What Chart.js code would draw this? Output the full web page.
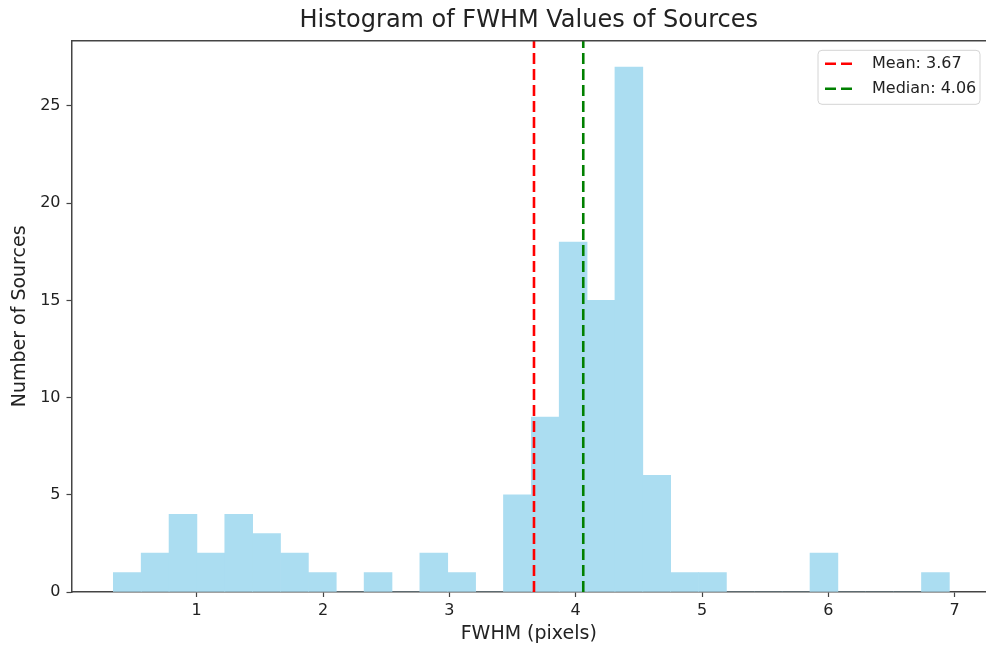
<!DOCTYPE html>
<html>
<head>
<meta charset="utf-8">
<title>FWHM histogram</title>
<script src="https://cdn.jsdelivr.net/npm/chart.js@4.4.0/dist/chart.umd.min.js"></script>
<style>
    html, body { margin: 0; padding: 0; overflow: hidden; background: #fff; }
    #wrap { width: 986px; height: 648px; }
</style>
</head>
<body>
<div id="wrap"><canvas id="graphe"></canvas></div>
<script>
// histogram bins: left edge of first bin, bin width, sources per bin
var binStart = 0.34;
var binWidth = 0.2206;
var counts = [1, 2, 4, 2, 4, 3, 2, 1, 0, 1, 0, 2, 1, 0, 5, 9, 18, 15, 27, 6, 1, 1, 0, 0, 0, 2, 0, 0, 0, 1];
// summary statistics shown as vertical lines
var meanValue = 3.67;
var medianValue = 4.06;
// axes (the x range runs up to the right edge of the canvas, the right spine falls outside)
var xTicks = [1, 2, 3, 4, 5, 6, 7];
var yTicks = [0, 5, 10, 15, 20, 25];
var xLimits = [0.009, 7.248];
var yLimits = [0, 28.35];

var font = "'DejaVu Sans', sans-serif";
var spineColor = '#444';

Chart.defaults.color = '#222';
Chart.defaults.font.family = font;

//bar centre for every bin, empty bins included so all bars get the same width
function histData(){
    var data = [];
    for (var i = 0; i < counts.length; i++) {
        data.push({x: binStart + (i + 0.5) * binWidth, y: counts[i]});
    }
    return data;
}
//vertical line spanning the whole y range
function vline(value){
    return [{x: value, y: yLimits[0]}, {x: value, y: yLimits[1]}];
}

//top spine, the scales only draw left and bottom
var framePlugin = {
    id: 'frame',
    afterDatasetsDraw: function(chart){
        var a = chart.chartArea, ctx = chart.ctx;
        ctx.save();
        ctx.strokeStyle = spineColor;
        ctx.lineWidth = 1.5;
        ctx.beginPath();
        ctx.moveTo(a.left, a.top);
        ctx.lineTo(a.right, a.top);
        ctx.stroke();
        ctx.restore();
    }
};

//boxed legend in the upper right corner, one entry per line dataset
var legendPlugin = {
    id: 'boxLegend',
    afterDraw: function(chart){
        var a = chart.chartArea, ctx = chart.ctx;
        var items = chart.data.datasets.filter(function(ds){ return ds.type === 'line'; });
        var x = 818, y = a.top + 9.5, w = 162, h = 54;
        ctx.save();
        ctx.beginPath();
        ctx.roundRect(x, y, w, h, 4);
        ctx.fillStyle = 'rgba(255,255,255,0.8)';
        ctx.fill();
        ctx.strokeStyle = '#d4d4d4';
        ctx.lineWidth = 1;
        ctx.stroke();
        ctx.font = '16px ' + font;
        ctx.textBaseline = 'middle';
        items.forEach(function(ds, i){
            var cy = y + 13.5 + i * 25;
            ctx.strokeStyle = ds.borderColor;
            ctx.lineWidth = ds.borderWidth;
            ctx.setLineDash(ds.borderDash);
            ctx.beginPath();
            ctx.moveTo(x + 7, cy);
            ctx.lineTo(x + 37, cy);
            ctx.stroke();
            ctx.setLineDash([]);
            ctx.fillStyle = '#222';
            ctx.fillText(ds.label, x + 54, cy);
        });
        ctx.restore();
    }
};

var ctx = document.getElementById('graphe').getContext('2d');
var myChart = new Chart(ctx, {
    type: 'bar',
    data: {
        datasets: [{
            type: 'line',
            label: 'Mean: ' + meanValue.toFixed(2),
            data: vline(meanValue),
            borderColor: '#ff0000',
            borderWidth: 2.6,
            borderDash: [11, 5],
            pointRadius: 0,
            fill: false,
            order: 0
        },
        {
            type: 'line',
            label: 'Median: ' + medianValue.toFixed(2),
            data: vline(medianValue),
            borderColor: '#008000',
            borderWidth: 2.6,
            borderDash: [11, 5],
            pointRadius: 0,
            fill: false,
            order: 0
        },
        {
            label: 'FWHM',
            data: histData(),
            // skyblue at 0.7 alpha over white, kept opaque so touching bars leave no seams
            backgroundColor: 'rgb(171,221,241)',
            borderWidth: 0,
            barPercentage: 1,
            categoryPercentage: 1,
            order: 1
        }]
    },
    options: {
        responsive: true,
        maintainAspectRatio: false,
        animation: false,
        events: [],
        layout: { padding: 0 },
        plugins: {
            legend: { display: false },
            tooltip: { enabled: false },
            title: {
                display: true,
                fullSize: false,
                text: 'Histogram of FWHM Values of Sources',
                color: '#222',
                font: { size: 24, weight: 'normal', family: font },
                padding: { top: 6, bottom: 6 }
            }
        },
        scales: {
            x: {
                type: 'linear',
                min: xLimits[0],
                max: xLimits[1],
                offset: false,
                grid: { offset: false, drawOnChartArea: false, drawTicks: true, tickLength: 5, color: spineColor, tickWidth: 1.2 },
                border: { display: true, color: spineColor, width: 1.5 },
                afterBuildTicks: function(scale){
                    scale.ticks = xTicks.map(function(v){ return {value: v}; });
                },
                ticks: { maxRotation: 0, padding: 4, font: { size: 16 }, color: '#222' },
                title: { display: true, text: 'FWHM (pixels)', font: { size: 19 }, color: '#222', padding: { top: 0, bottom: 3 } },
                afterFit: function(scale){ scale.height = 56; }
            },
            y: {
                type: 'linear',
                min: yLimits[0],
                max: yLimits[1],
                grid: { drawOnChartArea: false, drawTicks: true, tickLength: 5, color: spineColor, tickWidth: 1.2 },
                border: { display: true, color: spineColor, width: 1.5 },
                afterBuildTicks: function(scale){
                    scale.ticks = yTicks.map(function(v){ return {value: v}; });
                },
                ticks: { padding: 6, font: { size: 16 }, color: '#222' },
                title: { display: true, text: 'Number of Sources', font: { size: 19 }, color: '#222', padding: { top: 9, bottom: 0 } },
                afterFit: function(scale){ scale.width = 71.5; }
            }
        }
    },
    plugins: [framePlugin, legendPlugin]
});
</script>
</body>
</html>
